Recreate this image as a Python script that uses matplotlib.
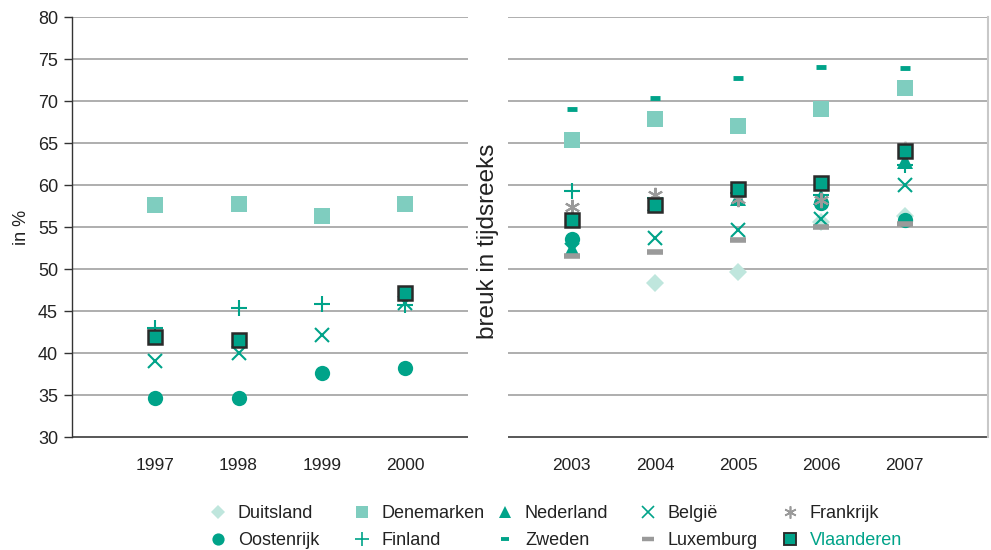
import numpy as np
import matplotlib
matplotlib.use("Agg")
import matplotlib.pyplot as plt
from matplotlib.lines import Line2D

plt.rcParams['font.family'] = ['Liberation Sans', 'DejaVu Sans']

nan = np.nan
years = ['1997', '1998', '1999', '2000', '2003', '2004', '2005', '2006', '2007']

duitsland  = [nan, nan, nan, nan, nan, 48.3, 49.6, 55.6, 56.3]
denemarken = [57.6, 57.7, 56.3, 57.7, 65.3, 67.9, 67.0, 69.0, 71.5]
nederland  = [nan, nan, nan, nan, 52.4, 57.9, 58.4, 58.6, 62.9]
belgie     = [39.0, 40.0, 42.1, 45.9, 52.3, 53.7, 54.7, 56.0, 60.0]
frankrijk  = [nan, nan, nan, nan, 57.4, 58.8, 58.3, 58.2, 64.3]
oostenrijk = [34.7, 34.7, 37.6, 38.2, 53.6, nan, nan, 57.9, 55.8]
finland    = [43.0, 45.4, 45.8, 45.7, 59.3, 58.5, 59.0, 58.8, 62.4]
zweden     = [nan, nan, nan, nan, 69.0, 70.3, 72.7, 74.1, 73.9]
luxemburg  = [nan, nan, nan, nan, 51.6, 52.0, 53.5, 55.0, 55.4]
vlaanderen = [41.9, 41.5, nan, 47.1, 55.8, 57.6, 59.5, 60.2, 64.0]

break_label = 'breuk in tijdsreeks'
ylabel = 'in %'

TEAL = '#00a389'
LTEAL = '#7fcdbf'
VLTEAL = '#bfe6dd'
GRAY = '#9a9a9a'

# x positions: slot 4 is reserved for the break
xpos = np.array([0, 1, 2, 3, 5, 6, 7, 8, 9])
break_x = 4

fig = plt.figure(figsize=(9.91, 5.5), dpi=100)
ax = fig.add_axes([72/991, 1-437/550, (988-72)/991, 420/550])
ax.set_xlim(-1, 10)
ax.set_ylim(30, 80)

series = [
    ('Duitsland', duitsland, dict(marker='D', ms=9.5, color=VLTEAL, mew=0)),
    ('Denemarken', denemarken, dict(marker='s', ms=11, color=LTEAL, mew=0)),
    ('Nederland', nederland, dict(marker='^', ms=11, color=TEAL, mew=0)),
    ('Oostenrijk', oostenrijk, dict(marker='o', ms=11, color=TEAL, mew=0)),
    ('België', belgie, dict(marker='x', ms=10, color=TEAL, mew=1.5)),
    ('Finland', finland, dict(marker='+', ms=12, color=TEAL, mew=1.5)),
    ('Frankrijk', frankrijk, dict(marker=(6, 2, 0), ms=11, color=GRAY, mew=1.5)),
    ('Zweden', zweden, dict(marker='_', ms=7, color=TEAL, mew=3.5)),
    ('Luxemburg', luxemburg, dict(marker='_', ms=11, color=GRAY, mew=4)),
    ('Vlaanderen', vlaanderen, dict(marker='s', ms=10, markerfacecolor=TEAL, markeredgecolor='#2a2a2a', mew=1.8)),
]
handles = {}
for i, (name, vals, style) in enumerate(series):
    h, = ax.plot(xpos, vals, linestyle='none', zorder=3 + i, **style)
    handles[name] = h

# gridlines with gap at the break
gap = 0.24
for y in range(35, 81, 5):
    ax.hlines(y, -1, break_x - gap, color='#a8a8a8', lw=1.3, zorder=1)
    ax.hlines(y, break_x + gap, 10, color='#a8a8a8', lw=1.3, zorder=1)
ax.hlines(30, -1, break_x - gap, color='#4a4a4a', lw=1.3, zorder=2, clip_on=False)
ax.hlines(30, break_x + gap, 10, color='#4a4a4a', lw=1.3, zorder=2, clip_on=False)

ax.text(break_x, 53.3, break_label, rotation=90, ha='center', va='center', fontsize=17.5, color='#222222')

for s in ['top', 'bottom']:
    ax.spines[s].set_visible(False)
ax.spines['right'].set_color('#c8c8c8')
ax.spines['right'].set_linewidth(1.5)
ax.spines['left'].set_color('#333333')
ax.spines['left'].set_linewidth(1.0)

ax.set_yticks(range(30, 81, 5))
ax.tick_params(axis='y', length=6, width=1, color='#333333', labelsize=13, labelcolor='#222222', pad=4)
ax.set_xticks(xpos)
ax.set_xticklabels(years)
ax.tick_params(axis='x', length=0, labelsize=12.5, labelcolor='#222222', pad=15)
ax.set_ylabel(ylabel, fontsize=13, color='#222222', labelpad=6)

# legend in five fixed columns
cols = [('Duitsland', 'Oostenrijk'), ('Denemarken', 'Finland'), ('Nederland', 'Zweden'),
        ('België', 'Luxemburg'), ('Frankrijk', 'Vlaanderen')]
col_x = [209, 353, 496, 639, 781]
for cx, names in zip(col_x, cols):
    hs = []
    for n in names:
        h = handles[n]
        lh = Line2D([], [], linestyle='none', marker=h.get_marker(),
                    markersize=h.get_markersize() * 0.8,
                    markerfacecolor=h.get_markerfacecolor(),
                    markeredgecolor=h.get_markeredgecolor(),
                    markeredgewidth=h.get_markeredgewidth() * (0.75 if n == 'Vlaanderen' else 0.8))
        hs.append(lh)
    leg = fig.legend(hs, names, loc='upper left', bbox_to_anchor=(cx/991, 1-505/550),
                     frameon=False, fontsize=13, handlelength=1.0, handletextpad=0.6,
                     labelspacing=0.55, borderpad=0, borderaxespad=0)
    for t in leg.get_texts():
        t.set_color(TEAL if t.get_text() == 'Vlaanderen' else '#222222')

fig.savefig('out.png', dpi=100)
